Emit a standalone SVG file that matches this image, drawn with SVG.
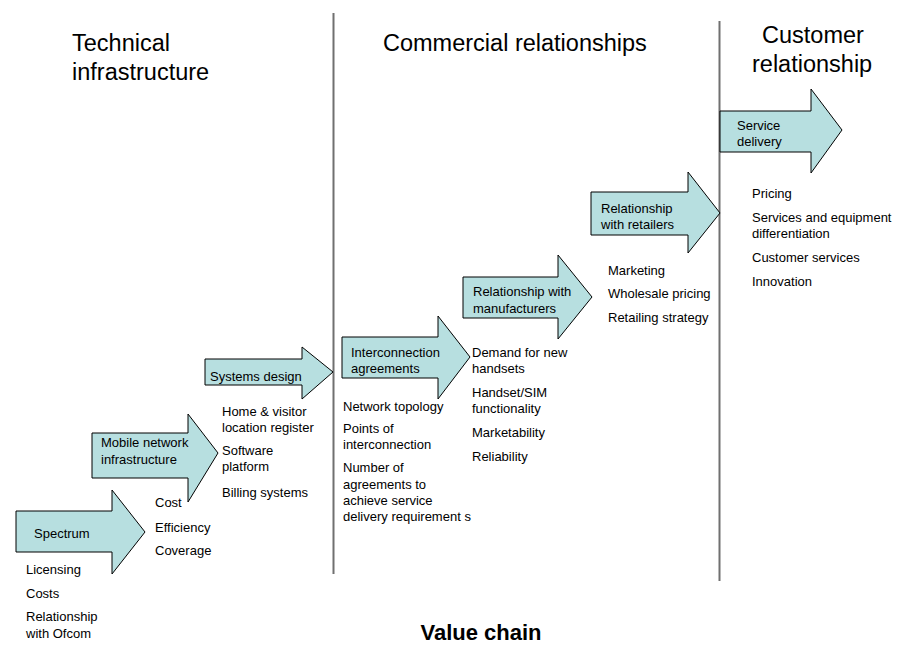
<svg xmlns="http://www.w3.org/2000/svg" width="907" height="655" viewBox="0 0 907 655">
<style>
.arrow{fill:#b7dfe0;stroke:#000;stroke-width:1;stroke-linejoin:miter}
.lbl{font-family:"Liberation Sans",Arial,sans-serif;font-size:13px;fill:#000}
.hdr{font-family:"Liberation Sans",Arial,sans-serif;font-size:23.5px;fill:#000}
.ttl{font-family:"Liberation Sans",Arial,sans-serif;font-size:22px;font-weight:bold;fill:#000}
.div{stroke:#707070;stroke-width:2}
</style>
<rect width="907" height="655" fill="#fff"/>
<g id="dividers">
<line class="div" x1="333.5" y1="13" x2="333.5" y2="574"/>
<line class="div" x1="719.5" y1="21" x2="719.5" y2="581"/>
</g>
<g id="headers">
<text class="hdr" x="72" y="51">Technical</text>
<text class="hdr" x="72" y="80">infrastructure</text>
<text class="hdr" x="383" y="51">Commercial relationships</text>
<text class="hdr" x="762" y="43">Customer</text>
<text class="hdr" x="752" y="72">relationship</text>
</g>
<g id="spectrum">
<polygon class="arrow" points="16,511 112,511 112,490 145,532 112,574 112,552 16,552"/>
<text class="lbl" x="34" y="538">Spectrum</text>
<text class="lbl" x="26" y="574">Licensing</text>
<text class="lbl" x="26" y="598">Costs</text>
<text class="lbl" x="26" y="621">Relationship</text>
<text class="lbl" x="26" y="638">with Ofcom</text>
</g>
<g id="mobile-network">
<polygon class="arrow" points="92,433 188,433 188,414 218,453 188,502 188,478 92,478"/>
<text class="lbl" x="101" y="447">Mobile network</text>
<text class="lbl" x="101" y="464">infrastructure</text>
<text class="lbl" x="155" y="507">Cost</text>
<text class="lbl" x="155" y="532">Efficiency</text>
<text class="lbl" x="155" y="555">Coverage</text>
</g>
<g id="systems-design">
<polygon class="arrow" points="205,359 302,359 302,347 333,372 302,399 302,385 205,385"/>
<text class="lbl" x="210" y="381">Systems design</text>
<text class="lbl" x="222" y="416">Home &amp; visitor</text>
<text class="lbl" x="222" y="432">location register</text>
<text class="lbl" x="222" y="455">Software</text>
<text class="lbl" x="222" y="471">platform</text>
<text class="lbl" x="222" y="497">Billing systems</text>
</g>
<g id="interconnection">
<polygon class="arrow" points="342,337 438,337 438,316 470,357 438,399 438,378 342,378"/>
<text class="lbl" x="351" y="357">Interconnection</text>
<text class="lbl" x="351" y="373">agreements</text>
<text class="lbl" x="343" y="411">Network topology</text>
<text class="lbl" x="343" y="433">Points of</text>
<text class="lbl" x="343" y="449">interconnection</text>
<text class="lbl" x="343" y="472">Number of</text>
<text class="lbl" x="343" y="489">agreements to</text>
<text class="lbl" x="343" y="505">achieve service</text>
<text class="lbl" x="343" y="521">delivery requirement s</text>
</g>
<g id="manufacturers">
<polygon class="arrow" points="463,277 558,277 558,255 592,297 558,339 558,318 463,318"/>
<text class="lbl" x="473" y="296">Relationship with</text>
<text class="lbl" x="473" y="313">manufacturers</text>
<text class="lbl" x="472" y="357">Demand for new</text>
<text class="lbl" x="472" y="373">handsets</text>
<text class="lbl" x="472" y="397">Handset/SIM</text>
<text class="lbl" x="472" y="413">functionality</text>
<text class="lbl" x="472" y="437">Marketability</text>
<text class="lbl" x="472" y="461">Reliability</text>
</g>
<g id="retailers">
<polygon class="arrow" points="591,192 688,192 688,172 720,213 688,253 688,235 591,235"/>
<text class="lbl" x="601" y="213">Relationship</text>
<text class="lbl" x="601" y="229">with retailers</text>
<text class="lbl" x="608" y="275">Marketing</text>
<text class="lbl" x="608" y="298">Wholesale pricing</text>
<text class="lbl" x="608" y="322">Retailing strategy</text>
</g>
<g id="service-delivery">
<polygon class="arrow" points="720,111 811,111 811,89 842,130 811,173 811,152 720,152"/>
<text class="lbl" x="737" y="130">Service</text>
<text class="lbl" x="737" y="146">delivery</text>
<text class="lbl" x="752" y="198">Pricing</text>
<text class="lbl" x="752" y="222">Services and equipment</text>
<text class="lbl" x="752" y="238">differentiation</text>
<text class="lbl" x="752" y="262">Customer services</text>
<text class="lbl" x="752" y="286">Innovation</text>
</g>
<g id="title">
<text class="ttl" x="481" y="640" text-anchor="middle">Value chain</text>
</g>
</svg>
